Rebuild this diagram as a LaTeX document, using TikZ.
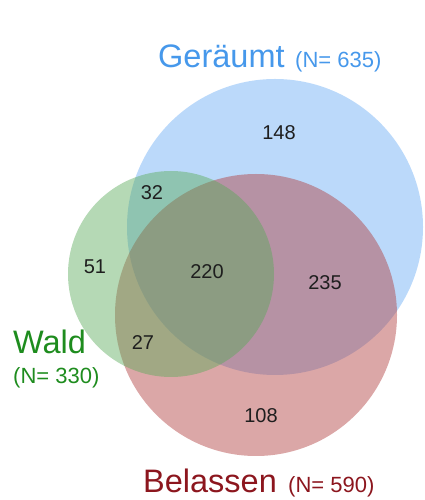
\documentclass[tikz,border=0pt]{standalone}
\usepackage{fontspec}
\setmainfont{Liberation Sans}
\definecolor{bluefill}{RGB}{120,180,245}
\definecolor{redfill}{RGB}{176,60,60}
\definecolor{greenfill}{RGB}{90,170,90}
\definecolor{bluetext}{RGB}{70,152,235}
\definecolor{greentext}{RGB}{30,140,30}
\definecolor{redtext}{RGB}{140,22,30}
\definecolor{numtext}{RGB}{30,30,30}
\begin{document}
\begin{tikzpicture}[x=1pt,y=1pt,
  bigtitle/.style={inner sep=0pt,anchor=base west,font=\fontsize{32.5}{38}\selectfont},
  smalltitle/.style={inner sep=0pt,anchor=base west,font=\fontsize{22}{26}\selectfont},
  count/.style={inner sep=0pt,text=numtext,font=\fontsize{20}{24}\selectfont}]
\useasboundingbox (0,0) rectangle (424,500);
% circles
\fill[bluefill,fill opacity=0.5] (275,273) circle[radius=148];
\fill[redfill,fill opacity=0.45] (256,185) circle[radius=141];
\fill[greenfill,fill opacity=0.45] (171,226) circle[radius=103];
% titles
\node[bigtitle,text=bluetext] (geraeumt) at (158,432) {Geräumt};
\node[smalltitle,text=bluetext] (geraeumtN) at (295,432) {(N= 635)};
\node[bigtitle,text=greentext] (wald) at (13,146) {Wald};
\node[smalltitle,text=greentext] (waldN) at (13,116) {(N= 330)};
\node[bigtitle,text=redtext] (belassen) at (143,7) {Belassen};
\node[smalltitle,text=redtext] (belassenN) at (288,7) {(N= 590)};
% counts
\node[count] (c148) at (279,367) {148};
\node[count] (c32) at (152,307) {32};
\node[count] (c51) at (95,233) {51};
\node[count] (c220) at (207,228) {220};
\node[count] (c235) at (325,217) {235};
\node[count] (c27) at (143,157) {27};
\node[count] (c108) at (261,84) {108};
\end{tikzpicture}
\end{document}
